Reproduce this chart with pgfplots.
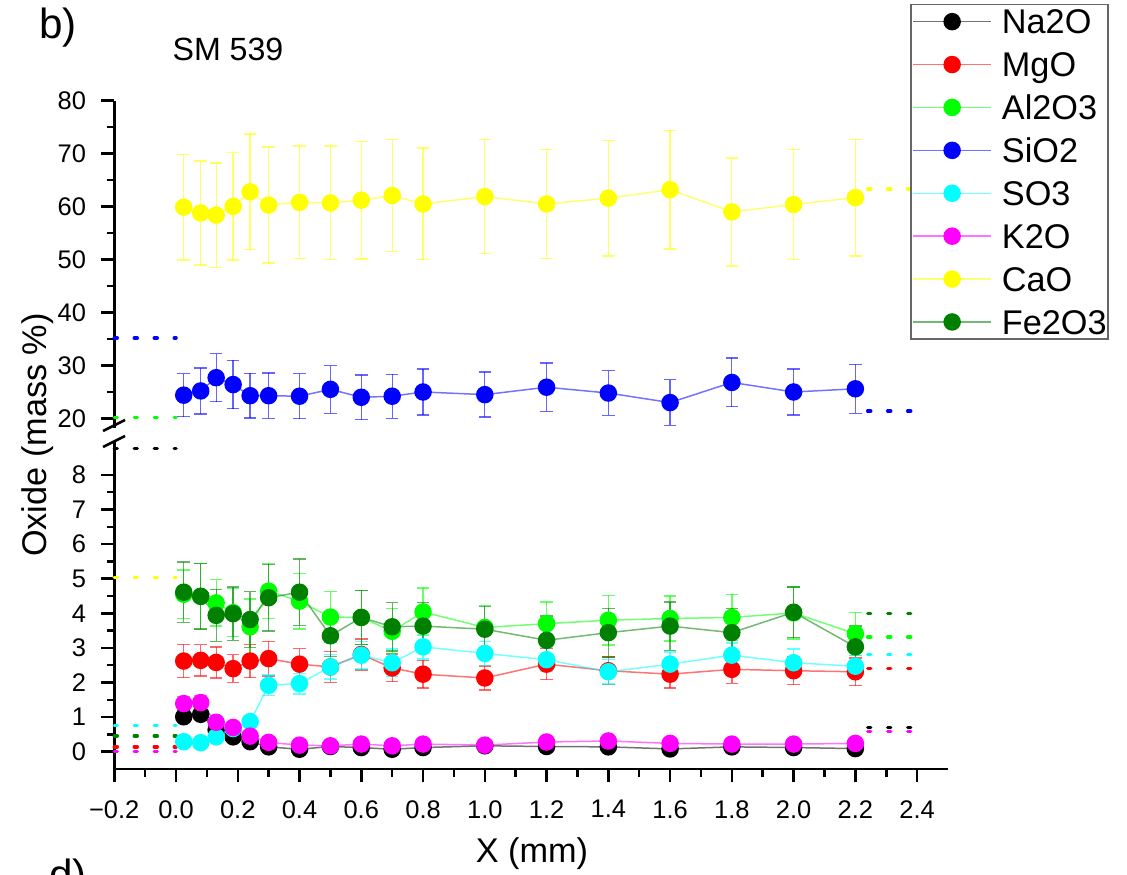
\documentclass[border=0pt]{standalone}
\usepackage{fontspec}
\setmainfont{Liberation Sans}
\usepackage{pgfplots}
\pgfplotsset{compat=1.18}
\usepackage{pgfplotstable}

\definecolor{cNa}{RGB}{0,0,0}
\definecolor{cMg}{RGB}{255,0,0}
\definecolor{cAl}{RGB}{0,255,0}
\definecolor{cSi}{RGB}{0,0,255}
\definecolor{cS}{RGB}{0,255,255}
\definecolor{cK}{RGB}{255,0,255}
\definecolor{cCa}{RGB}{255,255,0}
\definecolor{cFe}{RGB}{0,128,0}

% lower panel: x, value, error for each oxide
\pgfplotstableread{
x     na   nae  mg   mge  al   ale  so   soe  k    ke   fe   fee
0.025 1.01 0.10 2.62 0.48 4.55 0.70 0.29 0.10 1.39 0.20 4.61 0.87
0.08  1.08 0.12 2.64 0.45 4.49 0.95 0.26 0.10 1.42 0.20 4.49 0.94
0.13  0.63 0.08 2.58 0.45 4.30 0.67 0.43 0.10 0.85 0.10 3.94 0.75
0.185 0.43 0.05 2.40 0.40 4.02 0.70 0.67 0.10 0.70 0.08 3.99 0.77
0.24  0.29 0.05 2.62 0.48 3.61 0.80 0.87 0.10 0.45 0.08 3.82 0.80
0.3   0.14 0.05 2.69 0.50 4.64 0.80 1.92 0.30 0.27 0.05 4.45 0.96
0.4   0.07 0.05 2.53 0.45 4.35 0.80 1.97 0.30 0.19 0.05 4.61 0.96
0.5   0.15 0.05 2.45 0.45 3.89 0.73 2.45 0.35 0.17 0.05 3.35 0.60
0.6   0.12 0.05 2.81 0.45 3.88 0.78 2.79 0.40 0.22 0.05 3.88 0.78
0.7   0.07 0.05 2.42 0.40 3.48 0.65 2.57 0.40 0.17 0.05 3.61 0.70
0.8   0.12 0.05 2.24 0.40 4.04 0.69 3.03 0.35 0.22 0.05 3.63 0.68
1.0   0.17 0.05 2.13 0.35 3.59 0.64 2.84 0.35 0.19 0.05 3.54 0.66
1.2   0.15 0.05 2.53 0.45 3.70 0.63 2.66 0.35 0.28 0.05 3.22 0.70
1.4   0.14 0.05 2.34 0.40 3.80 0.72 2.31 0.35 0.31 0.05 3.44 0.70
1.6   0.08 0.05 2.24 0.40 3.85 0.65 2.53 0.35 0.24 0.05 3.63 0.70
1.8   0.14 0.05 2.38 0.40 3.88 0.67 2.79 0.35 0.22 0.05 3.44 0.70
2.0   0.12 0.05 2.34 0.40 4.01 0.75 2.57 0.40 0.22 0.05 4.03 0.73
2.2   0.09 0.05 2.31 0.40 3.41 0.62 2.47 0.30 0.24 0.05 3.03 0.60
}\lowtab

% upper panel: SiO2 and CaO
\pgfplotstableread{
x     si   sie  ca    cae
0.025 24.4 4.05 59.9  10.0
0.08  25.2 4.35 58.8  9.8
0.13  27.7 4.55 58.4  9.85
0.185 26.4 4.55 60.05 10.15
0.24  24.3 4.20 62.8  10.9
0.3   24.3 4.30 60.3  10.95
0.4   24.2 4.25 60.8  10.65
0.5   25.5 4.50 60.7  10.75
0.6   24.0 4.20 61.2  11.1
0.7   24.2 4.15 62.1  10.6
0.8   25.0 4.35 60.5  10.55
1.0   24.5 4.25 61.9  10.8
1.2   25.9 4.55 60.5  10.35
1.4   24.8 4.20 61.6  10.9
1.6   23.0 4.30 63.2  11.2
1.8   26.8 4.60 59.0  10.2
2.0   25.0 4.35 60.4  10.4
2.2   25.6 4.60 61.7  11.0
}\uptab

\pgfplotsset{
  base/.style={
    scale only axis, width=166.75mm,
    xmin=-0.2, xmax=2.5,
    tick label style={font=\fontsize{14.5}{16}\selectfont},
    xticklabel style={yshift=-2.4mm},
    yticklabel style={xshift=-1.8mm},
    /pgf/number format/assume math mode=true,
    minor y tick num=1,
    clip=false,
  },
  lines/.style={
    axis line style={-, line width=0.55mm},
    x axis line style={-}, y axis line style={-},
    tick style={line width=0.5mm, black},
    major tick length=2.6mm, minor tick length=1.5mm,
    tick align=outside,
  },
  ser/.style={color=#1, line width=0.3mm, draw opacity=0.55, mark=*, mark size=1.6mm,
    mark options={draw=none, fill=#1, fill opacity=1, draw opacity=1}},
  eb/.style={/pgfplots/error bars/y dir=both, /pgfplots/error bars/y explicit,
    /pgfplots/error bars/error bar style={line width=0.26mm, draw opacity=0.6},
    /pgfplots/error bars/error mark options={rotate=90, mark size=1.25mm, line width=0.26mm, draw opacity=0.6}},
  ref/.style={color=#1, line width=0.7mm, line cap=round, dash pattern=on 0.6mm off 3.4mm, forget plot},
}

\begin{document}
\begin{tikzpicture}
\useasboundingbox (0,0) rectangle (225.4mm,174.8mm);

% lower part of the broken axis
\begin{axis}[base, at={(22.85mm,21mm)}, anchor=south west, height=65.4mm,
  ymin=-0.5, ymax=8.95,
  axis x line=bottom, axis y line=left, lines,
  xtick={-0.2,0,0.2,0.4,0.6,0.8,1.0,1.2,1.4,1.6,1.8,2.0,2.2,2.4},
  xticklabels={−0.2,0.0,0.2,0.4,0.6,0.8,1.0,1.2,1.4,1.6,1.8,2.0,2.2,2.4},
  minor x tick num=1,
  ytick={0,1,2,3,4,5,6,7,8},
]
\addplot[ref=cNa] coordinates {(-0.2,8.76) (0.0,8.76)};
\addplot[ref=cCa] coordinates {(-0.2,5.04) (0.0,5.04)};
\addplot[ref=cS]  coordinates {(-0.2,0.75) (0.0,0.75)};
\addplot[ref=cFe] coordinates {(-0.2,0.46) (0.0,0.46)};
\addplot[ref=cMg] coordinates {(-0.2,0.14) (0.0,0.14)};
\addplot[ref=cK]  coordinates {(-0.2,0.0) (0.0,0.0)};
\addplot[ref=cFe] coordinates {(2.24,4.0) (2.38,4.0)};
\addplot[ref=cAl] coordinates {(2.24,3.31) (2.38,3.31)};
\addplot[ref=cS]  coordinates {(2.24,2.81) (2.38,2.81)};
\addplot[ref=cMg] coordinates {(2.24,2.41) (2.38,2.41)};
\addplot[ref=cNa] coordinates {(2.24,0.70) (2.38,0.70)};
\addplot[ref=cK]  coordinates {(2.24,0.58) (2.38,0.58)};

\addplot[ser=cNa, eb] table[x=x, y=na, y error=nae] {\lowtab};
\addplot[ser=cMg, eb] table[x=x, y=mg, y error=mge] {\lowtab};
\addplot[ser=cAl, eb] table[x=x, y=al, y error=ale] {\lowtab};
\addplot[ser=cS,  eb] table[x=x, y=so, y error=soe] {\lowtab};
\addplot[ser=cK,  eb] table[x=x, y=k,  y error=ke]  {\lowtab};
\addplot[ser=cFe, eb] table[x=x, y=fe, y error=fee] {\lowtab};
\end{axis}

% upper part of the broken axis
\begin{axis}[base, at={(22.85mm,89.2mm)}, anchor=south west, height=65.46mm,
  ymin=18.2, ymax=80,
  axis x line=none, axis y line=left, lines,
  ytick={20,30,40,50,60,70,80},
  legend image code/.code={\draw[mark repeat=2, mark phase=2, #1] plot coordinates {(0mm,0mm) (7.8mm,0mm) (15.6mm,0mm)};},
  legend style={at={(1.193,0.269)}, anchor=south east, draw=black!60, line width=0.3mm,
    font=\fontsize{19.5}{21}\selectfont, inner xsep=0.3mm, inner ysep=1mm,
    nodes={inner sep=0pt, text height=4.9mm, text depth=0mm}, row sep=3.68mm,
    /tikz/every odd column/.append style={column sep=2mm}},
  legend cell align=left,
]
\addplot[ref=cSi] coordinates {(-0.2,35.2) (0.0,35.2)};
\addplot[ref=cAl] coordinates {(-0.2,20.2) (0.0,20.2)};
\addplot[ref=cSi] coordinates {(2.24,21.4) (2.38,21.4)};
\addplot[ref=cCa] coordinates {(2.24,63.3) (2.38,63.3)};

\addplot[ser=cSi, eb, forget plot] table[x=x, y=si, y error=sie] {\uptab};
\addplot[ser=cCa, eb, forget plot] table[x=x, y=ca, y error=cae] {\uptab};

\addlegendimage{ser=cNa}\addlegendentry{Na2O}
\addlegendimage{ser=cMg}\addlegendentry{MgO}
\addlegendimage{ser=cAl}\addlegendentry{Al2O3}
\addlegendimage{ser=cSi}\addlegendentry{SiO2}
\addlegendimage{ser=cS}\addlegendentry{SO3}
\addlegendimage{ser=cK}\addlegendentry{K2O}
\addlegendimage{ser=cCa}\addlegendentry{CaO}
\addlegendimage{ser=cFe}\addlegendentry{Fe2O3}
\end{axis}

% texts and axis break, in pixel coordinates of the reference
\begin{scope}[x=0.2mm, y=-0.2mm, shift={(0,174.8mm)}]
\node[font=\fontsize{24}{28}\selectfont] at (58,28) {b)};
\node[font=\fontsize{18.3}{22}\selectfont] at (228,49) {SM 539};
\node[font=\fontsize{19.5}{22}\selectfont, rotate=90] at (38,435) {Oxide (mass \%)};
\node[font=\fontsize{19.5}{22}\selectfont] at (532,854) {X (mm)};
\node[font=\fontsize{24}{28}\selectfont, anchor=north west, inner sep=0pt] at (49,859) {d)};
\draw[line width=0.5mm] (103,431) -- (125,420);
\draw[line width=0.5mm] (103,447) -- (125,436);
\end{scope}
\end{tikzpicture}
\end{document}
